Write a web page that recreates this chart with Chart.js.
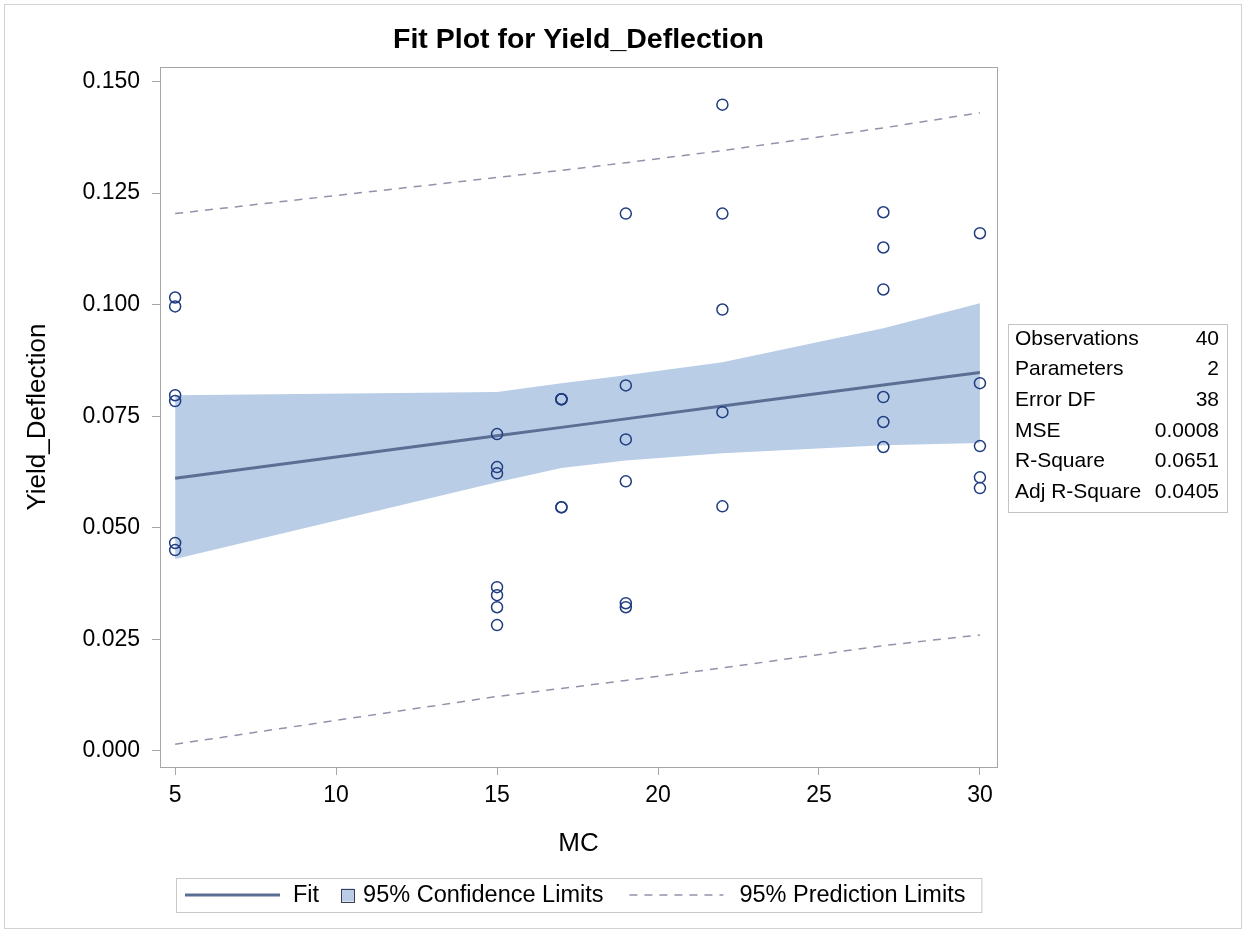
<!DOCTYPE html>
<html>
<head>
<meta charset="utf-8">
<title>Fit Plot for Yield_Deflection</title>
<script src="https://cdn.jsdelivr.net/npm/chart.js@4.4.1/dist/chart.umd.min.js"></script>
<style>
  html, body { margin: 0; padding: 0; background: #fff; }
  #wrap { position: relative; width: 1247px; height: 934px; }
</style>
</head>
<body>
<div id="wrap"><canvas id="fitPlot" width="1247" height="934"></canvas></div>
<script>
const mcValues = [
    5, 5, 5, 5, 5, 5,
    15, 15, 15, 15, 15, 15, 15,
    17, 17, 17, 17, 17,
    19, 19, 19, 19, 19, 19,
    22, 22, 22, 22, 22,
    27, 27, 27, 27, 27, 27,
    30, 30, 30, 30, 30
];
const yieldValues = [
    0.1016, 0.0996, 0.0797, 0.0784, 0.0466, 0.0450,
    0.0710, 0.0636, 0.0622, 0.0367, 0.0349, 0.0322, 0.0282,
    0.0788, 0.0788, 0.0788, 0.0546, 0.0546,
    0.1204, 0.0819, 0.0698, 0.0604, 0.0331, 0.0322,
    0.1448, 0.1204, 0.0989, 0.0759, 0.0548,
    0.1207, 0.1128, 0.1034, 0.0793, 0.0737, 0.0681,
    0.1160, 0.0824, 0.0683, 0.0613, 0.0589
];

// fit line and limits at the distinct MC values
const fitMC = [5, 15, 17, 19, 22, 27, 30];
const fitValues = [0.0611, 0.0706, 0.0725, 0.0744, 0.0773, 0.0820, 0.0848];
const confUpper = [0.0797, 0.0804, 0.0824, 0.0842, 0.0871, 0.0947, 0.1003];
const confLower = [0.0430, 0.0602, 0.0634, 0.0651, 0.0667, 0.0685, 0.0690];
const predUpper = [0.1204, 0.1285, 0.1301, 0.1318, 0.1345, 0.1396, 0.1430];
const predLower = [0.0015, 0.0122, 0.0140, 0.0158, 0.0186, 0.0236, 0.0260];

const xTicks = [5, 10, 15, 20, 25, 30];
const yTicks = [0, 0.025, 0.05, 0.075, 0.1, 0.125, 0.15];

const statLabels = ['Observations', 'Parameters', 'Error DF', 'MSE', 'R-Square', 'Adj R-Square'];
const statValues = ['40', '2', '38', '0.0008', '0.0651', '0.0405'];

const FONT = "'Liberation Sans', Arial, Helvetica, sans-serif";
const frameColor = '#a6a6a6';
const bandColor = '#b9cde6';
const fitColor = '#5a6f93';
const predColor = '#9292aa';
const markerColor = '#203d80';
const dashPattern = [8, 7];

const toXY = (xs, ys) => xs.map((x, i) => ({ x: x, y: ys[i] }));

// frame, outer border, statistics inset and the legend row
const decorations = {
    id: 'decorations',
    afterDraw(chart) {
        const ctx = chart.ctx;
        const area = chart.chartArea;
        ctx.save();

        // outer border of the graph
        ctx.strokeStyle = '#d2d2d2';
        ctx.lineWidth = 1;
        ctx.strokeRect(4.5, 4.5, 1237, 924);

        // plot frame
        ctx.strokeStyle = frameColor;
        ctx.strokeRect(Math.round(area.left) + 0.5, Math.round(area.top) + 0.5,
            Math.round(area.right - area.left), Math.round(area.bottom - area.top));

        // statistics inset
        const boxL = 1008, boxT = 324, boxW = 219, boxH = 188;
        ctx.strokeStyle = '#c4c4c4';
        ctx.strokeRect(boxL + 0.5, boxT + 0.5, boxW, boxH);
        ctx.fillStyle = '#000';
        ctx.font = '21px ' + FONT;
        ctx.textBaseline = 'middle';
        statLabels.forEach((label, i) => {
            const y = boxT + 15 + i * 30.6;
            ctx.textAlign = 'left';
            ctx.fillText(label, boxL + 7, y);
            ctx.textAlign = 'right';
            ctx.fillText(statValues[i], boxL + boxW - 8, y);
        });

        // legend
        ctx.font = '23.5px ' + FONT;
        const items = ['Fit', '95% Confidence Limits', '95% Prediction Limits'];
        const w = items.map(t => ctx.measureText(t).width);
        const lineLen = 95, sq = 13, dashLen = 94;
        const total = 9 + lineLen + 13 + w[0] + 22 + sq + 9 + w[1] + 26 + dashLen + 16 + w[2] + 16;
        const legL = Math.round((area.left + area.right) / 2 - total / 2);
        const legT = 878, legH = 34, cy = legT + legH / 2;
        ctx.strokeStyle = '#c8c8c8';
        ctx.lineWidth = 1;
        ctx.strokeRect(legL + 0.5, legT + 0.5, total, legH);

        let x = legL + 9;
        ctx.strokeStyle = fitColor;
        ctx.lineWidth = 3;
        ctx.beginPath();
        ctx.moveTo(x, cy);
        ctx.lineTo(x + lineLen, cy);
        ctx.stroke();
        x += lineLen + 13;
        ctx.fillStyle = '#000';
        ctx.textAlign = 'left';
        ctx.fillText(items[0], x, cy + 1);
        x += w[0] + 22;

        ctx.fillStyle = bandColor;
        ctx.fillRect(x, cy - sq / 2, sq, sq);
        ctx.strokeStyle = '#3c3c50';
        ctx.lineWidth = 1;
        ctx.strokeRect(Math.round(x) + 0.5, Math.round(cy - sq / 2) + 0.5, sq, sq);
        x += sq + 9;
        ctx.fillStyle = '#000';
        ctx.fillText(items[1], x, cy + 1);
        x += w[1] + 26;

        ctx.strokeStyle = predColor;
        ctx.lineWidth = 1.5;
        ctx.setLineDash(dashPattern);
        ctx.beginPath();
        ctx.moveTo(x, cy);
        ctx.lineTo(x + dashLen, cy);
        ctx.stroke();
        ctx.setLineDash([]);
        x += dashLen + 16;
        ctx.fillStyle = '#000';
        ctx.fillText(items[2], x, cy + 1);

        ctx.restore();
    }
};

const ctx = document.getElementById('fitPlot').getContext('2d');

new Chart(ctx, {
    type: 'scatter',
    data: {
        datasets: [
            {
                label: 'Yield_Deflection',
                data: toXY(mcValues, yieldValues),
                pointStyle: 'circle',
                pointRadius: 5.5,
                pointBorderWidth: 1.5,
                pointBorderColor: markerColor,
                pointBackgroundColor: 'rgba(0,0,0,0)'
            },
            {
                type: 'line',
                label: 'Fit',
                data: toXY(fitMC, fitValues),
                borderColor: fitColor,
                borderWidth: 3,
                pointRadius: 0,
                fill: false
            },
            {
                type: 'line',
                label: '95% Prediction Limits',
                data: toXY(fitMC, predUpper),
                borderColor: predColor,
                borderWidth: 1.5,
                borderDash: dashPattern,
                pointRadius: 0,
                fill: false
            },
            {
                type: 'line',
                label: 'Lower Prediction',
                data: toXY(fitMC, predLower),
                borderColor: predColor,
                borderWidth: 1.5,
                borderDash: dashPattern,
                pointRadius: 0,
                fill: false
            },
            {
                type: 'line',
                label: '95% Confidence Limits',
                data: toXY(fitMC, confUpper),
                borderWidth: 0,
                borderColor: 'rgba(0,0,0,0)',
                backgroundColor: bandColor,
                pointRadius: 0,
                fill: '+1'
            },
            {
                type: 'line',
                label: 'Lower Confidence',
                data: toXY(fitMC, confLower),
                borderWidth: 0,
                borderColor: 'rgba(0,0,0,0)',
                pointRadius: 0,
                fill: false
            }
        ]
    },
    options: {
        responsive: false,
        animation: false,
        devicePixelRatio: 1,
        layout: { padding: { left: 8, right: 250, top: 0, bottom: 0 } },
        plugins: {
            legend: { display: false },
            tooltip: { enabled: false },
            title: {
                display: true,
                fullSize: false,
                text: 'Fit Plot for Yield_Deflection',
                color: '#000',
                font: { family: FONT, size: 28.5, weight: 'bold' },
                padding: { top: 23, bottom: 10 }
            }
        },
        scales: {
            x: {
                type: 'linear',
                position: 'bottom',
                min: 4.53,
                max: 30.53,
                afterBuildTicks: scale => { scale.ticks = xTicks.map(v => ({ value: v })); },
                afterFit: scale => { scale.height = 167; },
                grid: { drawOnChartArea: false, drawTicks: true, tickLength: 8, color: frameColor },
                border: { display: true, color: frameColor },
                ticks: {
                    color: '#000',
                    padding: 7,
                    maxRotation: 0,
                    font: { family: FONT, size: 23 }
                },
                title: {
                    display: true,
                    text: 'MC',
                    color: '#000',
                    font: { family: FONT, size: 26 },
                    padding: { top: 0, bottom: 75 }
                }
            },
            y: {
                type: 'linear',
                min: -0.0036,
                max: 0.1532,
                afterBuildTicks: scale => { scale.ticks = yTicks.map(v => ({ value: v })); },
                afterFit: scale => { scale.width = 152; },
                grid: { drawOnChartArea: false, drawTicks: true, tickLength: 8, color: frameColor },
                border: { display: true, color: frameColor },
                ticks: {
                    color: '#000',
                    padding: 12,
                    font: { family: FONT, size: 23 },
                    callback: v => Number(v).toFixed(3)
                },
                title: {
                    display: true,
                    text: 'Yield_Deflection',
                    color: '#000',
                    font: { family: FONT, size: 26 },
                    padding: { top: 14, bottom: 0 }
                }
            }
        }
    },
    plugins: [decorations]
});
</script>
</body>
</html>
